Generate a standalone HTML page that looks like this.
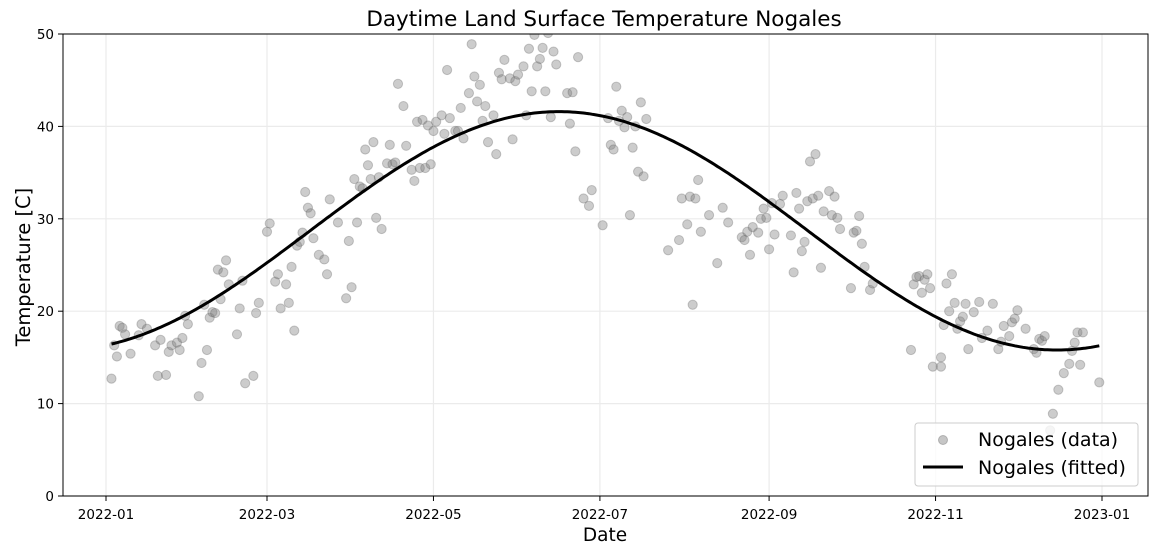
<!DOCTYPE html>
<html><head><meta charset="utf-8"><style>
body{margin:0;background:#fff;}
svg text{font-family:"DejaVu Sans","Liberation Sans",sans-serif;fill:#000;}
</style></head><body>
<svg id="chart" width="1156" height="554" xmlns="http://www.w3.org/2000/svg">
<defs><clipPath id="clip"><rect x="63" y="34" width="1085" height="462"/></clipPath></defs>
<text x="604" y="26" text-anchor="middle" font-size="21.5">Daytime Land Surface Temperature Nogales</text>
<g id="grid"></g>
<g id="points" clip-path="url(#clip)"></g>
<path id="fit" fill="none" stroke="#000" stroke-width="3" clip-path="url(#clip)"/>
<rect x="63" y="34" width="1085" height="462" fill="none" stroke="#000" stroke-width="1"/>
<g id="axes"></g>
<text x="605" y="541" text-anchor="middle" font-size="18.5">Date</text>
<text transform="translate(30,267) rotate(-90)" text-anchor="middle" font-size="19.5">Temperature [C]</text>
<g>
<rect x="915" y="423" width="223" height="63" rx="3" fill="rgba(255,255,255,0.8)" stroke="#ccc"/>
<circle cx="943" cy="440" r="4.5" fill="rgba(128,128,128,0.45)" stroke="rgba(100,100,100,0.4)"/>
<text x="978" y="446" font-size="19">Nogales (data)</text>
<line x1="923" y1="467" x2="963" y2="467" stroke="#000" stroke-width="3"/>
<text x="978" y="474" font-size="19">Nogales (fitted)</text>
</g>
</svg>
<script>
const days=[2,3,4,5,6,7,9,12,13,15,18,19,20,22,23,24,26,27,28,29,30,34,35,36,37,38,39,40,41,42,43,44,45,48,49,50,51,54,55,56,59,60,62,63,64,66,67,68,69,70,71,72,73,74,75,76,78,80,81,82,85,88,89,90,91,92,93,94,95,96,97,98,99,100,101,103,104,105,106,107,109,110,112,113,114,115,116,117,118,119,120,121,123,124,125,126,128,129,130,131,133,134,135,136,137,138,139,140,142,143,144,145,146,148,149,150,151,153,154,155,156,157,158,159,160,161,162,163,164,165,169,170,171,172,173,175,177,178,182,184,185,186,187,188,189,190,191,192,193,194,195,196,197,198,206,210,211,213,214,215,216,217,218,221,224,226,228,233,234,235,236,237,239,240,241,242,243,244,245,247,248,251,252,253,254,255,256,257,258,259,260,261,262,263,265,266,267,268,269,273,274,275,276,277,278,280,281,295,296,297,298,299,300,301,302,303,306,306,307,308,309,310,311,312,313,314,315,316,318,320,321,323,325,327,328,329,331,332,333,334,337,340,341,342,343,344,346,347,349,351,353,354,355,356,357,358,364];
const temps=[12.7,16.3,15.1,18.4,18.2,17.5,15.4,17.4,18.6,18.1,16.3,13.0,16.9,13.1,15.6,16.3,16.6,15.8,17.1,19.5,18.6,10.8,14.4,20.7,15.8,19.3,19.9,19.8,24.5,21.3,24.2,25.5,22.9,17.5,20.3,23.3,12.2,13.0,19.8,20.9,28.6,29.5,23.2,24.0,20.3,22.9,20.9,24.8,17.9,27.1,27.5,28.5,32.9,31.2,30.6,27.9,26.1,25.6,24.0,32.1,29.6,21.4,27.6,22.6,34.3,29.6,33.5,33.3,37.5,35.8,34.3,38.3,30.1,34.5,28.9,36.0,38.0,35.9,36.1,44.6,42.2,37.9,35.3,34.1,40.5,35.5,40.7,35.5,40.1,35.9,39.5,40.5,41.2,39.2,46.1,40.9,39.5,39.5,42.0,38.7,43.6,48.9,45.4,42.7,44.5,40.6,42.2,38.3,41.2,37.0,45.8,45.1,47.2,45.2,38.6,44.9,45.6,46.5,41.2,48.4,43.8,49.9,46.5,47.3,48.5,43.8,50.1,41.0,48.1,46.7,43.6,40.3,43.7,37.3,47.5,32.2,31.4,33.1,29.3,40.9,38.0,37.5,44.3,40.6,41.7,39.9,41.0,30.4,37.7,40.0,35.1,42.6,34.6,40.8,26.6,27.7,32.2,29.4,32.4,20.7,32.2,34.2,28.6,30.4,25.2,31.2,29.6,28.0,27.7,28.6,26.1,29.1,28.5,30.0,31.1,30.1,26.7,31.7,28.3,31.6,32.5,28.2,24.2,32.8,31.1,26.5,27.5,31.9,36.2,32.2,37.0,32.5,24.7,30.8,33.0,30.4,32.4,30.1,28.9,22.5,28.5,28.7,30.3,27.3,24.8,22.3,23.0,15.8,22.9,23.7,23.8,22.0,23.4,24.0,22.5,14.0,15.0,14.0,18.5,23.0,20.0,24.0,20.9,18.1,18.9,19.4,20.8,15.9,19.9,21.0,17.1,17.9,20.8,15.9,16.7,18.4,17.3,18.8,19.2,20.1,18.1,15.9,15.5,17.0,16.8,17.3,7.1,8.9,11.5,13.3,14.3,15.7,16.6,17.7,14.2,17.7,12.3];
const fitMean=[28.7];
const fitAmplitude=[12.9];
const fitPeakDay=[166];
const fitRange=[2,364];
const xTickDays=[0,59,120,181,243,304,365];
const xTickLabels=["2022-01","2022-03","2022-05","2022-07","2022-09","2022-11","2023-01"];
const yTicks=[0,10,20,30,40,50];

const NS="http://www.w3.org/2000/svg";
const X=d=>106+d*(996/365);
const Y=t=>496-t*(462/50);
function mk(tag,attrs,parent){const e=document.createElementNS(NS,tag);for(const k in attrs)e.setAttribute(k,attrs[k]);parent.appendChild(e);return e;}
const grid=document.getElementById('grid'),axes=document.getElementById('axes'),pts=document.getElementById('points');
xTickDays.forEach((d,i)=>{
  const gl=mk('line',{x1:X(d),x2:X(d),y1:34,y2:496,stroke:'#ebebeb','stroke-width':1.2},grid);
  
  
  const tk=mk('line',{x1:X(d),x2:X(d),y1:496,y2:501,stroke:'#000'},axes);
  
  
  const tl=mk('text',{x:X(d),y:519,'text-anchor':'middle','font-size':13.5},axes);
  tl.textContent=xTickLabels[i];
  
  
});
yTicks.forEach(v=>{
  const gl=mk('line',{x1:63,x2:1148,y1:Y(v),y2:Y(v),stroke:'#ebebeb','stroke-width':1.2},grid);
  
  
  const tk=mk('line',{x1:58,x2:63,y1:Y(v),y2:Y(v),stroke:'#000'},axes);
  
  
  const tl=mk('text',{x:54,y:Y(v)+5,'text-anchor':'end','font-size':13.5},axes);
  tl.textContent=v;
  
  
});
days.forEach((d,i)=>{
  const c=mk('circle',{cx:X(d),cy:Y(temps[i]),r:4.6,fill:'rgba(128,128,128,0.4)',stroke:'rgba(90,90,90,0.3)','stroke-width':1},pts);
  
  
});
let p='';
for(let d=fitRange[0];d<=fitRange[1];d+=1){
  const t=fitMean[0]+fitAmplitude[0]*Math.cos(2*Math.PI*(d-fitPeakDay[0])/365);
  p+=(p?'L':'M')+X(d).toFixed(1)+','+Y(t).toFixed(1);
}
document.getElementById('fit').setAttribute('d',p);
</script>
</body></html>
